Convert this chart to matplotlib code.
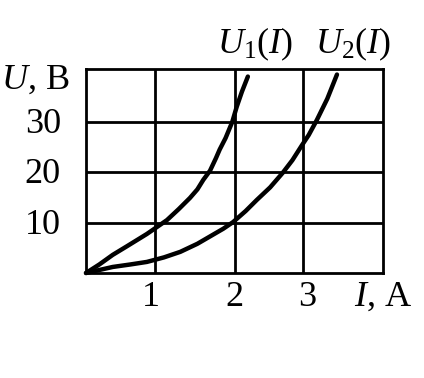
import matplotlib
matplotlib.use("Agg")
import matplotlib.pyplot as plt

plt.rcParams['font.family'] = ['Liberation Serif', 'DejaVu Serif']
plt.rcParams['mathtext.fontset'] = 'custom'
plt.rcParams['mathtext.rm'] = 'Liberation Serif'
plt.rcParams['mathtext.it'] = 'Liberation Serif:italic'

# Data (I in A, U in V)
i1 = [0, 0.18, 0.36, 0.55, 0.82, 1.09, 1.25, 1.40, 1.50, 1.58, 1.67, 1.75, 1.80, 1.88, 1.97, 2.03, 2.10, 2.18]
u1 = [0, 1.7, 3.6, 5.3, 7.75, 10.5, 12.7, 14.9, 16.6, 18.5, 20.3, 22.8, 24.5, 26.8, 30.0, 33.0, 36.0, 39.0]
i2 = [0, 0.18, 0.36, 0.60, 0.82, 1.05, 1.27, 1.50, 1.71, 1.85, 1.98, 2.15, 2.30, 2.48, 2.65, 2.78, 2.91, 3.00, 3.11, 3.25, 3.38]
u2 = [0, 0.6, 1.2, 1.7, 2.2, 3.1, 4.2, 5.8, 7.6, 8.8, 10.1, 12.3, 14.5, 17.0, 19.9, 22.4, 25.4, 27.4, 30.4, 34.6, 39.4]

x_grid = [0.93, 2.0, 2.92]
x_labels = ['1', '2', '3']
x_label_pos = [0.87, 2.0, 2.98]
y_grid = [10, 20, 30]
y_labels = ['10', '20', '30']

fig = plt.figure(figsize=(4.24, 3.78), dpi=100)
ax = fig.add_axes([86/424, 1-273/378, (383-86)/424, (273-69)/378])
ax.set_xlim(0, 4)
ax.set_ylim(0, 40.5)
ax.set_xticks([])
ax.set_yticks([])
for s in ax.spines.values():
    s.set_linewidth(2.0)
    s.set_color('black')

for xg in x_grid:
    ax.axvline(xg, color='black', lw=2.0)
for yg in y_grid:
    ax.axhline(yg, color='black', lw=2.0)

ax.plot(i1, u1, color='black', lw=3.2, solid_capstyle='round', solid_joinstyle='round', clip_on=False)
ax.plot(i2, u2, color='black', lw=3.2, solid_capstyle='round', solid_joinstyle='round', clip_on=False)

fs = 26
for xp, lab in zip(x_label_pos, x_labels):
    ax.text(xp, -4.8, lab, ha='center', va='center', fontsize=fs, clip_on=False)
ax.text(4.0, -4.8, r'$I$, A', ha='center', va='center', fontsize=fs, clip_on=False)

for yp, lab in zip(y_grid, y_labels):
    ax.text(-0.34, yp - 0.5, lab, ha='right', va='center', fontsize=fs, clip_on=False)
ax.text(-0.22, 38.2, r'$U$, B', ha='right', va='center', fontsize=fs, clip_on=False)

ax.text(2.28, 45.3, r'$U_1(I)$', ha='center', va='center', fontsize=fs, clip_on=False)
ax.text(3.6, 45.3, r'$U_2(I)$', ha='center', va='center', fontsize=fs, clip_on=False)

fig.savefig('out.png', dpi=100, facecolor='white')
